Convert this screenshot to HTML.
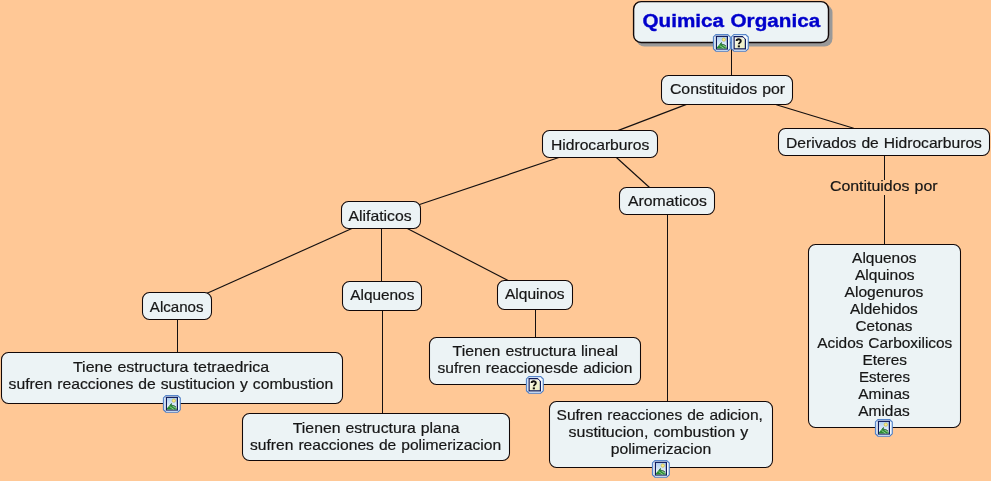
<!DOCTYPE html><html><head><meta charset="utf-8"><style>
html,body{margin:0;padding:0;}
body{width:991px;height:481px;overflow:hidden;background:#FFC896;position:relative;font-family:"Liberation Sans",sans-serif;}
.b{position:absolute;box-sizing:border-box;background:#ECF3F5;border:1.3px solid #120808;border-radius:9px;}
.t{position:absolute;height:20px;line-height:20px;white-space:nowrap;text-align:center;color:#161616;font-size:15px;}
.t span{display:inline-block;transform-origin:50% 50%;will-change:transform;word-spacing:0.6px;-webkit-text-stroke:0.2px #161616;}
.ti{font-weight:bold;color:#0000CC;font-size:18px;}
.ti span{-webkit-text-stroke:0.35px #0000CC;}
.lab{position:absolute;background:#FFC896;}
svg{position:absolute;left:0;top:0;}
.ic{overflow:visible}

</style></head><body>
<svg width="991" height="481" viewBox="0 0 991 481"><line x1="731.5" y1="46.5" x2="731.5" y2="79.5" stroke="#141010" stroke-width="1.0"/><line x1="686.5" y1="104.4" x2="617.8" y2="130.6" stroke="#141010" stroke-width="1.15"/><line x1="776.3" y1="104.7" x2="853.7" y2="128.3" stroke="#141010" stroke-width="1.15"/><line x1="559.6" y1="157.3" x2="418.1" y2="205.0" stroke="#141010" stroke-width="1.15"/><line x1="615.3" y1="156.5" x2="649.8" y2="187.7" stroke="#141010" stroke-width="1.15"/><line x1="351.9" y1="228.5" x2="206.6" y2="293.6" stroke="#141010" stroke-width="1.15"/><line x1="381.5" y1="223.5" x2="381.5" y2="286.5" stroke="#141010" stroke-width="1.0"/><line x1="407.3" y1="228.4" x2="508.1" y2="280.5" stroke="#141010" stroke-width="1.15"/><line x1="177.5" y1="314.5" x2="177.5" y2="356.5" stroke="#141010" stroke-width="1.0"/><line x1="382.5" y1="304.5" x2="382.5" y2="417.5" stroke="#141010" stroke-width="1.0"/><line x1="535.5" y1="304.5" x2="535.5" y2="341.5" stroke="#141010" stroke-width="1.0"/><line x1="667.5" y1="209.5" x2="667.5" y2="405.5" stroke="#141010" stroke-width="1.0"/><line x1="884.5" y1="150.5" x2="884.5" y2="248.5" stroke="#141010" stroke-width="1.0"/></svg>
<svg width="991" height="481" viewBox="0 0 991 481"><rect x="636.5" y="4.6" width="196" height="42" rx="8" fill="#999"/><rect x="633.6" y="1.6" width="194.9" height="40.9" rx="7.5" fill="#ECF3F5" stroke="#120808" stroke-width="1.4"/><rect x="661.5" y="75.5" width="131" height="29" rx="7" fill="#ECF3F5" stroke="#120808" stroke-width="1.05"/><rect x="542.5" y="130.5" width="115" height="27" rx="7" fill="#ECF3F5" stroke="#120808" stroke-width="1.05"/><rect x="778.5" y="128.5" width="211" height="27" rx="7" fill="#ECF3F5" stroke="#120808" stroke-width="1.05"/><rect x="619.5" y="187.5" width="95" height="27" rx="7" fill="#ECF3F5" stroke="#120808" stroke-width="1.05"/><rect x="341.5" y="201.5" width="79" height="27" rx="7" fill="#ECF3F5" stroke="#120808" stroke-width="1.05"/><rect x="142.5" y="292.5" width="69" height="27" rx="7" fill="#ECF3F5" stroke="#120808" stroke-width="1.05"/><rect x="342.5" y="281.5" width="79" height="29" rx="7" fill="#ECF3F5" stroke="#120808" stroke-width="1.05"/><rect x="497.5" y="280.5" width="75" height="29" rx="7" fill="#ECF3F5" stroke="#120808" stroke-width="1.05"/><rect x="1.5" y="352.5" width="341" height="51" rx="7" fill="#ECF3F5" stroke="#120808" stroke-width="1.05"/><rect x="429.5" y="337.5" width="211" height="47" rx="7" fill="#ECF3F5" stroke="#120808" stroke-width="1.05"/><rect x="242.5" y="413.5" width="267" height="47" rx="7" fill="#ECF3F5" stroke="#120808" stroke-width="1.05"/><rect x="549.5" y="401.5" width="223" height="66" rx="7" fill="#ECF3F5" stroke="#120808" stroke-width="1.05"/><rect x="808.5" y="244.5" width="152" height="183" rx="7" fill="#ECF3F5" stroke="#120808" stroke-width="1.05"/></svg>
<div class="lab" style="left:826px;top:179.7px;width:116px;height:15.3px"></div>
<div class="t ti" style="left:531.50px;top:11.00px;width:400px"><span style="transform:scaleX(1.1488)">Quimica Organica</span></div>
<div class="t" style="left:527.80px;top:79.00px;width:400px"><span style="transform:scaleX(1.0570)">Constituidos por</span></div>
<div class="t" style="left:400.20px;top:135.00px;width:400px"><span style="transform:scaleX(1.0446)">Hidrocarburos</span></div>
<div class="t" style="left:684.15px;top:133.00px;width:400px"><span style="transform:scaleX(1.0423)">Derivados de Hidrocarburos</span></div>
<div class="t" style="left:467.25px;top:191.00px;width:400px"><span style="transform:scaleX(1.0516)">Aromaticos</span></div>
<div class="t" style="left:180.50px;top:206.00px;width:400px"><span style="transform:scaleX(1.0497)">Alifaticos</span></div>
<div class="t" style="left:-23.15px;top:297.00px;width:400px"><span style="transform:scaleX(1.0062)">Alcanos</span></div>
<div class="t" style="left:181.95px;top:285.00px;width:400px"><span style="transform:scaleX(1.0248)">Alquenos</span></div>
<div class="t" style="left:334.70px;top:284.00px;width:400px"><span style="transform:scaleX(1.0358)">Alquinos</span></div>
<div class="t" style="left:-28.70px;top:357.00px;width:400px"><span style="transform:scaleX(1.0658)">Tiene estructura tetraedrica</span></div>
<div class="t" style="left:-28.90px;top:374.00px;width:400px"><span style="transform:scaleX(1.0477)">sufren reacciones de sustitucion y combustion</span></div>
<div class="t" style="left:335.75px;top:341.00px;width:400px"><span style="transform:scaleX(1.0571)">Tienen estructura lineal</span></div>
<div class="t" style="left:335.20px;top:358.00px;width:400px"><span style="transform:scaleX(1.0363)">sufren reaccionesde adicion</span></div>
<div class="t" style="left:175.95px;top:418.00px;width:400px"><span style="transform:scaleX(1.0534)">Tienen estructura plana</span></div>
<div class="t" style="left:175.25px;top:435.00px;width:400px"><span style="transform:scaleX(1.0415)">sufren reacciones de polimerizacion</span></div>
<div class="t" style="left:460.15px;top:405.00px;width:400px"><span style="transform:scaleX(1.0345)">Sufren reacciones de adicion,</span></div>
<div class="t" style="left:458.05px;top:422.00px;width:400px"><span style="transform:scaleX(1.0647)">sustitucion, combustion y</span></div>
<div class="t" style="left:460.50px;top:439.00px;width:400px"><span style="transform:scaleX(1.0471)">polimerizacion</span></div>
<div class="t" style="left:684.00px;top:176.00px;width:400px"><span style="transform:scaleX(1.0602)">Contituidos por</span></div>
<div class="t" style="left:684.30px;top:248.00px;width:400px"><span style="transform:scaleX(1.0296)">Alquenos</span></div>
<div class="t" style="left:684.30px;top:265.00px;width:400px"><span style="transform:scaleX(1.0375)">Alquinos</span></div>
<div class="t" style="left:684.30px;top:282.00px;width:400px"><span style="transform:scaleX(1.0384)">Alogenuros</span></div>
<div class="t" style="left:684.30px;top:299.00px;width:400px"><span style="transform:scaleX(1.0291)">Aldehidos</span></div>
<div class="t" style="left:684.30px;top:316.00px;width:400px"><span style="transform:scaleX(1.0148)">Cetonas</span></div>
<div class="t" style="left:684.30px;top:333.00px;width:400px"><span style="transform:scaleX(1.0275)">Acidos Carboxilicos</span></div>
<div class="t" style="left:684.30px;top:350.00px;width:400px"><span style="transform:scaleX(1.0265)">Eteres</span></div>
<div class="t" style="left:684.30px;top:367.00px;width:400px"><span style="transform:scaleX(1.0029)">Esteres</span></div>
<div class="t" style="left:684.30px;top:384.00px;width:400px"><span style="transform:scaleX(1.0295)">Aminas</span></div>
<div class="t" style="left:684.30px;top:401.00px;width:400px"><span style="transform:scaleX(1.0295)">Amidas</span></div>
<svg width="0" height="0" style="position:absolute"><defs><linearGradient id="sky" x1="0" y1="0" x2="0" y2="1"><stop offset="0" stop-color="#A9CDEF"/><stop offset="1" stop-color="#FFFFFF"/></linearGradient><linearGradient id="doc" x1="0" y1="0" x2="1" y2="1"><stop offset="0" stop-color="#FFFFFF"/><stop offset="0.5" stop-color="#F2F2CF"/><stop offset="1" stop-color="#ECEEC4"/></linearGradient></defs></svg>
<svg class="ic" width="18" height="18" viewBox="0 0 18 18" style="left:713.2px;top:34.2px">
<path d="M3,0.45 H14.7 L17.25,3 V14.7 L14.7,17.25 H3 L0.45,14.7 V3 Z" fill="#fff" stroke="#4A7BC4" stroke-width="1.1"/>
<path d="M3.4,1.35 H14.3 L16.35,3.4 V14.3 L14.3,16.35 H3.4 L1.35,14.3 V3.4 Z" fill="none" stroke="#BBD4F2" stroke-width="0.9"/>
<rect x="3.4" y="2.35" width="11" height="12.7" fill="url(#sky)" stroke="#0D1A5C" stroke-width="1.2"/>
<circle cx="10.8" cy="5.6" r="1.65" fill="#F6EE86" stroke="#CDB54A" stroke-width="0.7"/>
<path d="M4,14.45 L4,13.2 Q6.5,10.2 8.55,8.3 L8.9,10.3 Q12,10.6 13.8,13.6 L13.8,14.45 Z" fill="#2B8B35"/>
<path d="M6.6,11.6 L10.8,14.3 M9.4,10.9 L13.4,13.5" stroke="#97D394" stroke-width="0.9"/>
<path d="M8.55,8.3 L7.6,9.9 M8.9,10.3 Q11.5,10.2 13.2,12" fill="none" stroke="#17432A" stroke-width="0.7"/>
</svg>
<svg class="ic" width="18" height="18" viewBox="0 0 18 18" style="left:730.8px;top:34.2px">
<path d="M3,0.45 H14.7 L17.25,3 V14.7 L14.7,17.25 H3 L0.45,14.7 V3 Z" fill="#fff" stroke="#4A7BC4" stroke-width="1.1"/>
<path d="M3.4,1.35 H14.3 L16.35,3.4 V14.3 L14.3,16.35 H3.4 L1.35,14.3 V3.4 Z" fill="none" stroke="#BBD4F2" stroke-width="0.9"/>
<path d="M3.1,2.55 H11.4 L14.4,5.4 V14.95 H3.1 Z" fill="url(#doc)" stroke="#0D1A5C" stroke-width="1.2"/>
<path d="M11.6,3.1 L13.8,5.2 L11.6,5.2 Z" fill="#fff"/>
<path d="M5.6,7.1 C5.6,4.7 9.8,4.7 9.8,6.9 C9.8,8.6 7.85,8.6 7.85,10.3" fill="none" stroke="#111" stroke-width="1.9"/>
<rect x="6.8" y="11.4" width="2.1" height="1.9" fill="#111"/>
</svg>
<svg class="ic" width="18" height="18" viewBox="0 0 18 18" style="left:163.1px;top:394.9px">
<path d="M3,0.45 H14.7 L17.25,3 V14.7 L14.7,17.25 H3 L0.45,14.7 V3 Z" fill="#fff" stroke="#4A7BC4" stroke-width="1.1"/>
<path d="M3.4,1.35 H14.3 L16.35,3.4 V14.3 L14.3,16.35 H3.4 L1.35,14.3 V3.4 Z" fill="none" stroke="#BBD4F2" stroke-width="0.9"/>
<rect x="3.4" y="2.35" width="11" height="12.7" fill="url(#sky)" stroke="#0D1A5C" stroke-width="1.2"/>
<circle cx="10.8" cy="5.6" r="1.65" fill="#F6EE86" stroke="#CDB54A" stroke-width="0.7"/>
<path d="M4,14.45 L4,13.2 Q6.5,10.2 8.55,8.3 L8.9,10.3 Q12,10.6 13.8,13.6 L13.8,14.45 Z" fill="#2B8B35"/>
<path d="M6.6,11.6 L10.8,14.3 M9.4,10.9 L13.4,13.5" stroke="#97D394" stroke-width="0.9"/>
<path d="M8.55,8.3 L7.6,9.9 M8.9,10.3 Q11.5,10.2 13.2,12" fill="none" stroke="#17432A" stroke-width="0.7"/>
</svg>
<svg class="ic" width="18" height="18" viewBox="0 0 18 18" style="left:526.1px;top:376px">
<path d="M3,0.45 H14.7 L17.25,3 V14.7 L14.7,17.25 H3 L0.45,14.7 V3 Z" fill="#fff" stroke="#4A7BC4" stroke-width="1.1"/>
<path d="M3.4,1.35 H14.3 L16.35,3.4 V14.3 L14.3,16.35 H3.4 L1.35,14.3 V3.4 Z" fill="none" stroke="#BBD4F2" stroke-width="0.9"/>
<path d="M3.1,2.55 H11.4 L14.4,5.4 V14.95 H3.1 Z" fill="url(#doc)" stroke="#0D1A5C" stroke-width="1.2"/>
<path d="M11.6,3.1 L13.8,5.2 L11.6,5.2 Z" fill="#fff"/>
<path d="M5.6,7.1 C5.6,4.7 9.8,4.7 9.8,6.9 C9.8,8.6 7.85,8.6 7.85,10.3" fill="none" stroke="#111" stroke-width="1.9"/>
<rect x="6.8" y="11.4" width="2.1" height="1.9" fill="#111"/>
</svg>
<svg class="ic" width="18" height="18" viewBox="0 0 18 18" style="left:652px;top:459.8px">
<path d="M3,0.45 H14.7 L17.25,3 V14.7 L14.7,17.25 H3 L0.45,14.7 V3 Z" fill="#fff" stroke="#4A7BC4" stroke-width="1.1"/>
<path d="M3.4,1.35 H14.3 L16.35,3.4 V14.3 L14.3,16.35 H3.4 L1.35,14.3 V3.4 Z" fill="none" stroke="#BBD4F2" stroke-width="0.9"/>
<rect x="3.4" y="2.35" width="11" height="12.7" fill="url(#sky)" stroke="#0D1A5C" stroke-width="1.2"/>
<circle cx="10.8" cy="5.6" r="1.65" fill="#F6EE86" stroke="#CDB54A" stroke-width="0.7"/>
<path d="M4,14.45 L4,13.2 Q6.5,10.2 8.55,8.3 L8.9,10.3 Q12,10.6 13.8,13.6 L13.8,14.45 Z" fill="#2B8B35"/>
<path d="M6.6,11.6 L10.8,14.3 M9.4,10.9 L13.4,13.5" stroke="#97D394" stroke-width="0.9"/>
<path d="M8.55,8.3 L7.6,9.9 M8.9,10.3 Q11.5,10.2 13.2,12" fill="none" stroke="#17432A" stroke-width="0.7"/>
</svg>
<svg class="ic" width="18" height="18" viewBox="0 0 18 18" style="left:875px;top:419.1px">
<path d="M3,0.45 H14.7 L17.25,3 V14.7 L14.7,17.25 H3 L0.45,14.7 V3 Z" fill="#fff" stroke="#4A7BC4" stroke-width="1.1"/>
<path d="M3.4,1.35 H14.3 L16.35,3.4 V14.3 L14.3,16.35 H3.4 L1.35,14.3 V3.4 Z" fill="none" stroke="#BBD4F2" stroke-width="0.9"/>
<rect x="3.4" y="2.35" width="11" height="12.7" fill="url(#sky)" stroke="#0D1A5C" stroke-width="1.2"/>
<circle cx="10.8" cy="5.6" r="1.65" fill="#F6EE86" stroke="#CDB54A" stroke-width="0.7"/>
<path d="M4,14.45 L4,13.2 Q6.5,10.2 8.55,8.3 L8.9,10.3 Q12,10.6 13.8,13.6 L13.8,14.45 Z" fill="#2B8B35"/>
<path d="M6.6,11.6 L10.8,14.3 M9.4,10.9 L13.4,13.5" stroke="#97D394" stroke-width="0.9"/>
<path d="M8.55,8.3 L7.6,9.9 M8.9,10.3 Q11.5,10.2 13.2,12" fill="none" stroke="#17432A" stroke-width="0.7"/>
</svg>
</body></html>
